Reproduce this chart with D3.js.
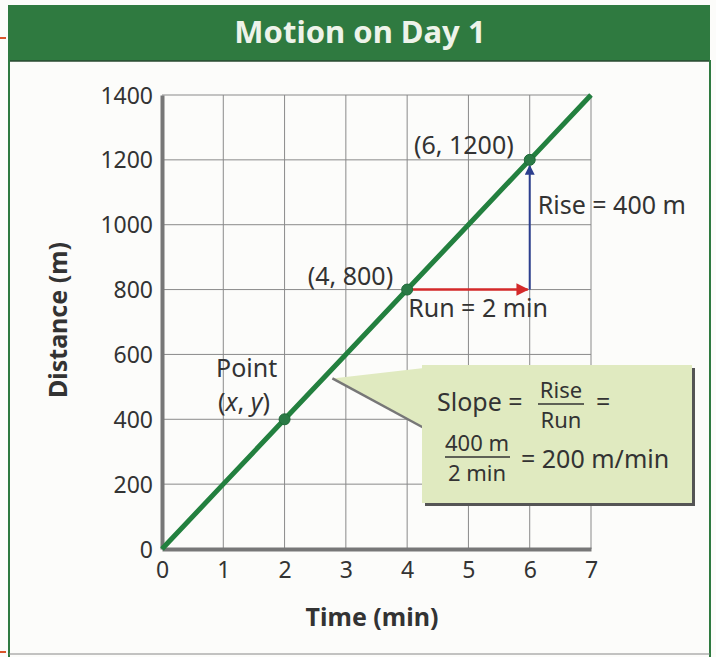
<!DOCTYPE html>
<html>
<head>
<meta charset="utf-8">
<script src="https://cdn.jsdelivr.net/npm/d3@7"></script>
<style>
  body { margin: 0; background: #fcfcfa; }
  svg text { font-family: "Noto Sans", "Open Sans", sans-serif; fill: #333; }
</style>
</head>
<body>
<div id="chart"></div>
<script>
// data
const times = [0, 1, 2, 3, 4, 5, 6, 7];
const distances = [0, 200, 400, 600, 800, 1000, 1200, 1400];
const xTicks = [0, 1, 2, 3, 4, 5, 6, 7];
const yTicks = [0, 200, 400, 600, 800, 1000, 1200, 1400];
const pointTimes = [2, 4, 6];
const pointDistances = [400, 800, 1200];

const width = 716, height = 657;
const svg = d3.select("#chart").append("svg")
  .attr("width", width)
  .attr("height", height);

const x = d3.scaleLinear().domain([0, 7]).range([162, 591]);
const y = d3.scaleLinear().domain([0, 1400]).range([549, 95]);

// frame + header
svg.append("rect").attr("x", 8).attr("y", 5).attr("width", 702).attr("height", 56)
  .attr("fill", "#2f7a40");
svg.append("line").attr("x1", 8).attr("x2", 710).attr("y1", 61).attr("y2", 61)
  .attr("stroke", "#2a4a30").attr("stroke-width", 1.5);
svg.append("line").attr("x1", 9).attr("x2", 9).attr("y1", 60).attr("y2", 657)
  .attr("stroke", "#2f7a40").attr("stroke-width", 2);
svg.append("line").attr("x1", 710).attr("x2", 710).attr("y1", 60).attr("y2", 657)
  .attr("stroke", "#2f7a40").attr("stroke-width", 2);
svg.append("line").attr("x1", 9).attr("x2", 710).attr("y1", 654).attr("y2", 654)
  .attr("stroke", "#888").attr("stroke-width", 1);
svg.append("line").attr("x1", 0).attr("x2", 6).attr("y1", 38).attr("y2", 38)
  .attr("stroke", "#d9542b").attr("stroke-width", 2);
svg.append("line").attr("x1", 0).attr("x2", 6).attr("y1", 652).attr("y2", 652)
  .attr("stroke", "#d9542b").attr("stroke-width", 2);
svg.append("text").attr("x", 360).attr("y", 43).attr("text-anchor", "middle")
  .style("font-size", "31px").style("font-weight", "bold").style("fill", "#eef3ea")
  .text("Motion on Day 1");

// grid
const grid = svg.append("g");
grid.selectAll("line.gx").data(xTicks.slice(1)).enter().append("line")
  .attr("x1", d => x(d)).attr("x2", d => x(d))
  .attr("y1", y(0)).attr("y2", y(1400))
  .attr("stroke", "#8a8a8a").attr("stroke-width", 1);
grid.selectAll("line.gy").data(yTicks.slice(1)).enter().append("line")
  .attr("x1", x(0)).attr("x2", x(7))
  .attr("y1", d => y(d)).attr("y2", d => y(d))
  .attr("stroke", "#8a8a8a").attr("stroke-width", 1);

// axes
const xAxis = svg.append("g").attr("transform", `translate(0,${y(0)})`)
  .call(d3.axisBottom(x).tickValues(xTicks).tickFormat(d3.format("d")).tickSize(0).tickPadding(22));
const yAxis = svg.append("g").attr("transform", `translate(${x(0)},0)`)
  .call(d3.axisLeft(y).tickValues(yTicks).tickFormat(d3.format("d")).tickSize(0).tickPadding(9));
[xAxis, yAxis].forEach(a => {
  a.select(".domain").attr("stroke", "#777").attr("stroke-width", 4);
  a.selectAll("text").style("font-size", "23px").style("fill", "#333")
    .style("font-family", '"Noto Sans", "Open Sans", sans-serif');
});
xAxis.selectAll("text").attr("dy", "0.3em");
yAxis.selectAll("text").attr("dy", "0.35em");

svg.append("text")
  .attr("transform", "translate(67,320) rotate(-90)")
  .attr("text-anchor", "middle")
  .style("font-size", "25px").style("font-weight", "bold")
  .text("Distance (m)");
svg.append("text").attr("x", 372).attr("y", 626).attr("text-anchor", "middle")
  .style("font-size", "25px").style("font-weight", "bold")
  .text("Time (min)");

// callout box (drawn before line so the line sits above the pointer)
const call = svg.append("g");
call.append("rect").attr("x", 425).attr("y", 368).attr("width", 270).attr("height", 138)
  .attr("fill", "#555");
call.append("polygon")
  .attr("points", `${x(2.78)},${y(526)} 424,368 424,428`)
  .attr("fill", "#e0eac0");
call.append("line").attr("x1", x(2.78)).attr("y1", y(526)).attr("x2", 424).attr("y2", 428)
  .attr("stroke", "#777").attr("stroke-width", 2.5);
call.append("rect").attr("x", 422).attr("y", 365).attr("width", 270).attr("height", 138)
  .attr("fill", "#e0eac0");

const fs = "25px", ffs = "22px";
call.append("text").attr("x", 437).attr("y", 411).style("font-size", fs).text("Slope =");
call.append("text").attr("x", 561).attr("y", 398).attr("text-anchor", "middle").style("font-size", ffs).text("Rise");
call.append("line").attr("x1", 538).attr("x2", 584).attr("y1", 404).attr("y2", 404).attr("stroke", "#333").attr("stroke-width", 1.5);
call.append("text").attr("x", 561).attr("y", 428).attr("text-anchor", "middle").style("font-size", ffs).text("Run");
call.append("text").attr("x", 596).attr("y", 411).style("font-size", fs).text("=");
call.append("text").attr("x", 477).attr("y", 451).attr("text-anchor", "middle").style("font-size", ffs).text("400 m");
call.append("line").attr("x1", 445).attr("x2", 510).attr("y1", 457).attr("y2", 457).attr("stroke", "#333").attr("stroke-width", 1.5);
call.append("text").attr("x", 477).attr("y", 481).attr("text-anchor", "middle").style("font-size", ffs).text("2 min");
call.append("text").attr("x", 521).attr("y", 468).style("font-size", fs).text("= 200 m/min");

// run / rise arrows
const defs = svg.append("defs");
[["arrRed", "#d42a2a"], ["arrBlue", "#2c3f8e"]].forEach(([id, c]) => {
  defs.append("marker").attr("id", id).attr("viewBox", "0 0 10 10")
    .attr("refX", 9).attr("refY", 5).attr("markerWidth", 5).attr("markerHeight", 5)
    .attr("orient", "auto")
    .append("path").attr("d", "M0,0 L10,5 L0,10 z").attr("fill", c);
});
svg.append("line").attr("x1", x(pointTimes[1])).attr("x2", x(pointTimes[2]) - 2)
  .attr("y1", y(pointDistances[1])).attr("y2", y(pointDistances[1]))
  .attr("stroke", "#d42a2a").attr("stroke-width", 2.5).attr("marker-end", "url(#arrRed)");
svg.append("line").attr("x1", x(pointTimes[2])).attr("x2", x(pointTimes[2]))
  .attr("y1", y(pointDistances[1])).attr("y2", y(pointDistances[2]) + 6)
  .attr("stroke", "#2c3f8e").attr("stroke-width", 2).attr("marker-end", "url(#arrBlue)");

// motion line
const line = d3.line().x((d, i) => x(times[i])).y(d => y(d));
svg.append("path").datum(distances)
  .attr("d", line)
  .attr("fill", "none").attr("stroke", "#23803f").attr("stroke-width", 5);

svg.selectAll("circle.pt").data(pointTimes).enter().append("circle")
  .attr("cx", d => x(d)).attr("cy", (d, i) => y(pointDistances[i]))
  .attr("r", 5.5).attr("fill", "#2a7a45").attr("stroke", "#1f6a38").attr("stroke-width", 1);

// labels
svg.append("text").attr("x", x(6) - 16).attr("y", y(1200) - 6).attr("text-anchor", "end")
  .style("font-size", fs).text("(6, 1200)");
svg.append("text").attr("x", x(4) - 14).attr("y", y(800) - 5).attr("text-anchor", "end")
  .style("font-size", fs).text("(4, 800)");
svg.append("text").attr("x", x(4) + 1).attr("y", y(800) + 27)
  .style("font-size", fs).text("Run = 2 min");
svg.append("text").attr("x", x(6) + 8).attr("y", y(1000) - 11)
  .style("font-size", fs).text("Rise = 400 m");
svg.append("text").attr("x", 216).attr("y", 377).style("font-size", fs).text("Point");
const xy = svg.append("text").attr("x", 218).attr("y", 411).style("font-size", fs);
xy.append("tspan").text("(");
xy.append("tspan").style("font-style", "italic").text("x");
xy.append("tspan").text(", ");
xy.append("tspan").style("font-style", "italic").text("y");
xy.append("tspan").text(")");
</script>
</body>
</html>
